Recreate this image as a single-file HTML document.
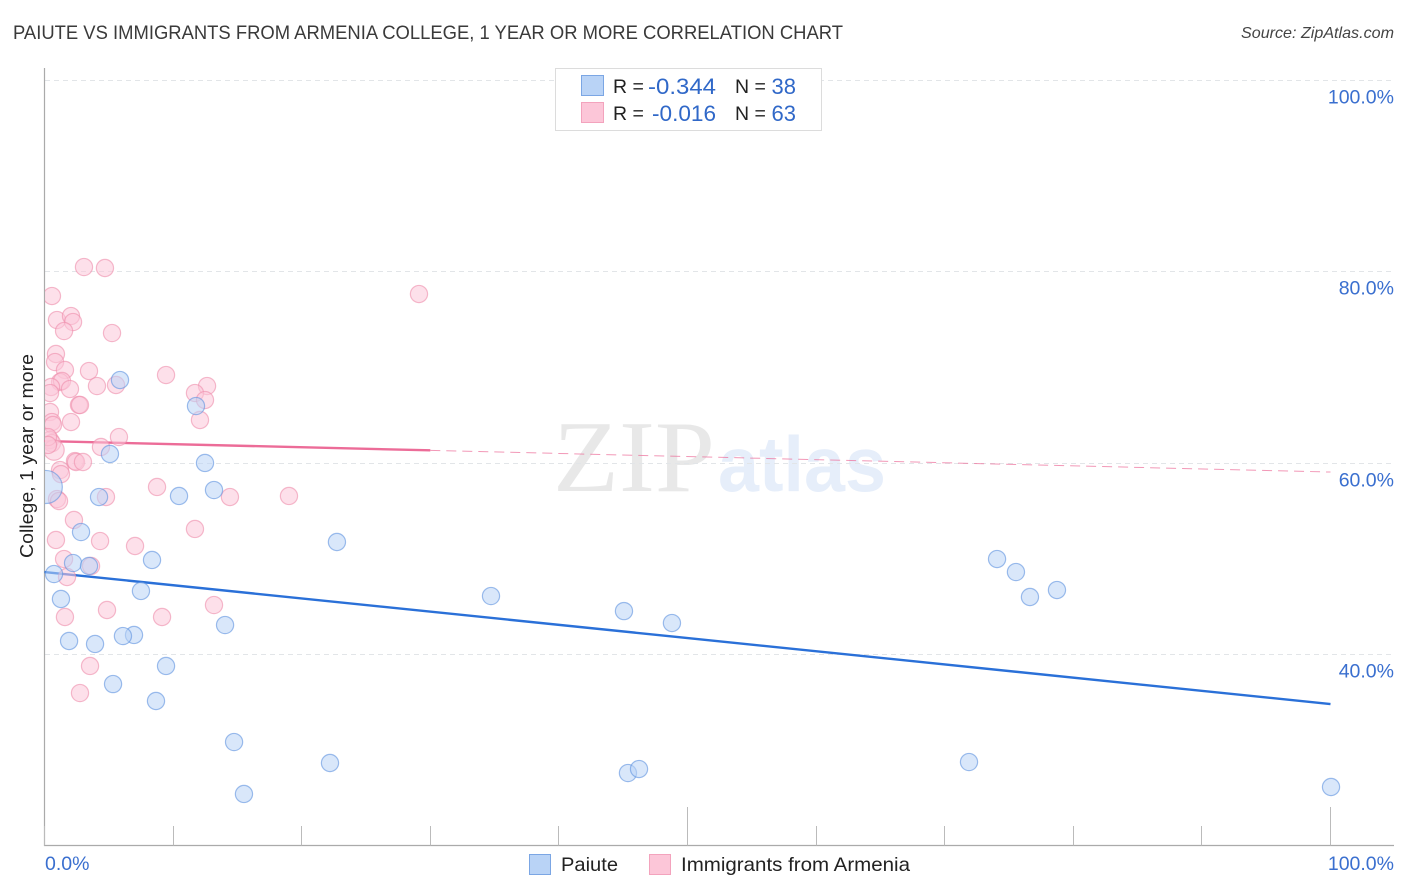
<!DOCTYPE html>
<html lang="en">
<head>
<meta charset="utf-8">
<title>Paiute vs Immigrants from Armenia College, 1 Year or More Correlation Chart</title>
<style>
html,body{margin:0;padding:0;background:#fff;width:1406px;height:892px;overflow:hidden}
svg{display:block;font-family:"Liberation Sans",sans-serif}
</style>
</head>
<body>
<svg id="chart" xmlns="http://www.w3.org/2000/svg" width="1406" height="892" viewBox="0 0 1406 892">
  <defs>
    <clipPath id="plot-clip"><rect x="45" y="68" width="1349" height="777"/></clipPath>
  </defs>
  <text x="13" y="39" font-size="19.5" fill="#3a3a3a" textLength="830" lengthAdjust="spacingAndGlyphs">PAIUTE VS IMMIGRANTS FROM ARMENIA COLLEGE, 1 YEAR OR MORE CORRELATION CHART</text>
  <text x="1394" y="38" font-size="16" font-style="italic" fill="#444" text-anchor="end" textLength="153" lengthAdjust="spacingAndGlyphs">Source: ZipAtlas.com</text>

  <g>
    <text x="553" y="491" font-family="'Liberation Serif',serif" font-size="102" fill="#e8e8e8" textLength="162" lengthAdjust="spacingAndGlyphs">ZIP</text>
    <text x="718" y="491" font-size="78" font-weight="bold" fill="#e6eefa" textLength="168" lengthAdjust="spacingAndGlyphs">atlas</text>
  </g>

  <g id="grid"></g>
  <g id="axes"></g>
  <g id="trends"></g>
  <g id="points" clip-path="url(#plot-clip)"></g>
  <g id="labels"></g>

  <text transform="translate(33,558) rotate(-90)" font-size="18.5" fill="#222" textLength="204" lengthAdjust="spacingAndGlyphs">College, 1 year or more</text>

  <g>
    <rect x="555.5" y="68.5" width="266" height="62" fill="#fff" stroke="#dcdcdc" stroke-width="1"/>
    <rect x="581.5" y="75.5" width="22" height="20" fill="#b9d3f6" stroke="#7ba6e4"/>
    <rect x="581.5" y="102.5" width="22" height="20" fill="#fcc6d8" stroke="#f3a3bd"/>
    <text x="613" y="93" font-size="19.5" fill="#222">R =</text>
    <text x="648" y="94" font-size="22" fill="#3068c8" textLength="68" lengthAdjust="spacingAndGlyphs">-0.344</text>
    <text x="735" y="93" font-size="19.5" fill="#222">N =</text>
    <text x="796" y="94" font-size="22" fill="#3068c8" text-anchor="end">38</text>
    <text x="613" y="120" font-size="19.5" fill="#222">R =</text>
    <text x="652" y="121" font-size="22" fill="#3068c8" textLength="64" lengthAdjust="spacingAndGlyphs">-0.016</text>
    <text x="735" y="120" font-size="19.5" fill="#222">N =</text>
    <text x="796" y="121" font-size="22" fill="#3068c8" text-anchor="end">63</text>
  </g>

  <g>
    <rect x="529.5" y="854.5" width="21" height="20" fill="#b9d3f6" stroke="#7ba6e4"/>
    <text x="561" y="871" font-size="19.5" fill="#222" textLength="57" lengthAdjust="spacingAndGlyphs">Paiute</text>
    <rect x="649.5" y="854.5" width="21" height="20" fill="#fcc6d8" stroke="#f3a3bd"/>
    <text x="681" y="871" font-size="19.5" fill="#222" textLength="229" lengthAdjust="spacingAndGlyphs">Immigrants from Armenia</text>
  </g>
</svg>
<script>
// Chart data (percent units)
const paiuteX = [5.87,11.78,5.09,12.48,4.24,10.46,13.18,22.74,2.84,8.36,2.22,3.46,0.74,7.50,1.28,34.72,45.06,48.79,14.04,6.96,6.10,1.91,3.93,9.45,5.33,8.67,14.74,22.20,15.51,45.37,46.23,71.89,100.04,74.07,75.54,76.63,78.73,0.1];
const paiuteY = [68.64,65.92,60.91,59.97,56.41,56.52,57.14,51.71,52.75,49.83,49.51,49.20,48.36,46.59,45.75,46.06,44.49,43.24,43.03,41.99,41.88,41.36,41.05,38.75,36.86,35.09,30.80,28.61,25.37,27.56,27.98,28.71,26.10,49.93,48.57,45.96,46.69,57.46];
const paiuteWeight = [1,1,1,1,1,1,1,1,1,1,1,1,1,1,1,1,1,1,1,1,1,1,1,1,1,1,1,1,1,1,1,1,1,1,1,1,1,3.7];
const armeniaX = [3.07,4.70,0.58,0.97,2.06,2.22,1.52,5.25,0.89,0.82,1.59,3.46,9.45,1.21,1.36,0.51,0.43,1.98,4.08,5.56,12.64,11.70,12.48,12.09,2.68,2.76,0.43,0.58,0.66,2.06,5.79,4.39,0.43,0.58,0.74,2.37,2.45,2.99,1.21,1.28,0.97,1.13,8.75,4.78,14.42,19.01,2.29,11.70,0.89,4.32,7.04,1.52,3.62,1.75,4.86,1.59,9.14,13.18,3.54,2.76,29.12,0.27,0.27];
const armeniaY = [80.45,80.35,77.42,74.91,75.33,74.70,73.76,73.55,71.36,70.52,69.69,69.58,69.16,68.43,68.54,67.91,67.28,67.70,68.01,68.12,68.01,67.28,66.55,64.46,66.03,66.03,65.30,64.25,63.94,64.25,62.68,61.64,62.37,62.05,61.32,60.17,60.07,60.07,59.23,58.81,56.20,55.99,57.46,56.41,56.41,56.52,54.01,53.07,51.92,51.81,51.29,49.93,49.20,48.05,44.60,43.87,43.87,45.12,38.75,35.92,77.63,62.68,61.85];
const armeniaWeight = [1,1,1,1,1,1,1,1,1,1,1,1,1,1,1,1,1,1,1,1,1,1,1,1,1,1,1,1,1,1,1,1,1,1,1.4,1,1,1,1,1,1,1,1,1,1,1,1,1,1,1,1,1,1,1,1,1,1,1,1,1,1,1,1];
const paiuteTrend = [48.57, 34.77];
const armeniaTrend = [62.26, 59.02];
const armeniaSolidEnd = 30;
const yTicks = [100, 80, 60, 40];
const yTickLabels = ["100.0%", "80.0%", "60.0%", "40.0%"];
const xTicks = [0, 10, 20, 30, 40, 50, 60, 70, 80, 90, 100];
const xMajorTicks = [50, 100];
const xEndLabels = ["0.0%", "100.0%"];

const NS = "http://www.w3.org/2000/svg";
function xScale(v) { return 44.5 + v * 12.86; }
function yScale(v) { return 80 + (100 - v) * 9.567; }
const baseline = 845.5;
function make(tag, attrs, parent, text) {
  const el = document.createElementNS(NS, tag);
  for (const k in attrs) el.setAttribute(k, attrs[k]);
  if (text !== undefined) el.textContent = text;
  parent.appendChild(el);
  return el;
}

const gridG = document.getElementById("grid");
const axesG = document.getElementById("axes");
const trendG = document.getElementById("trends");
const pointG = document.getElementById("points");
const labelG = document.getElementById("labels");

yTicks.forEach(function (t, i) {
  const y = Math.round(yScale(t)) + 0.5;
  const line = make("line", {x1: 45, x2: 1394, y1: y, y2: y, stroke: "#e2e5e8", "stroke-width": 1, "stroke-dasharray": "5 4"}, gridG);
  
  
  const label = make("text", {x: 1394, y: y + 23, "font-size": 19.5, fill: "#3a6fcf", "text-anchor": "end"}, labelG, yTickLabels[i]);
  
  
});

const yAxis = make("line", {x1: 44.5, x2: 44.5, y1: 68, y2: 846, stroke: "#aaa", "stroke-width": 1.2}, axesG);


const xAxis = make("line", {x1: 44, x2: 1394, y1: baseline, y2: baseline, stroke: "#aaa", "stroke-width": 1.2}, axesG);



xTicks.forEach(function (t) {
  const x = Math.round(xScale(t) - 0.5) + 0.5;
  const top = xMajorTicks.indexOf(t) >= 0 ? 807 : 826;
  const tick = make("line", {x1: x, x2: x, y1: top, y2: baseline, stroke: "#bbb", "stroke-width": 1}, axesG);
  
  
});

const xLabelLeft = make("text", {x: 45, y: 870, "font-size": 19.5, fill: "#3a6fcf"}, labelG, xEndLabels[0]);


const xLabelRight = make("text", {x: 1394, y: 870, "font-size": 19.5, fill: "#3a6fcf", "text-anchor": "end"}, labelG, xEndLabels[1]);



function drawPoints(xs, ys, weights, fill, stroke, name) {
  xs.forEach(function (xv, i) {
    const c = make("circle", {
      cx: xScale(xv), cy: yScale(ys[i]), r: 8.6 * Math.sqrt(weights[i]),
      fill: fill, "fill-opacity": 0.55, stroke: stroke, "stroke-opacity": 0.6, "stroke-width": 1.2
    }, pointG);
    
    
  });
}
drawPoints(armeniaX, armeniaY, armeniaWeight, "#fcc6d8", "#ee8dab", "armenia-point");
drawPoints(paiuteX, paiuteY, paiuteWeight, "#b9d3f6", "#5f93e0", "paiute-point");

function trendAt(trend, x) { return trend[0] + (trend[1] - trend[0]) * x / 100; }

const paiuteLine = make("line", {x1: xScale(0), y1: yScale(paiuteTrend[0]), x2: xScale(100), y2: yScale(paiuteTrend[1]), stroke: "#2a70d8", "stroke-width": 2.4}, trendG);


const armeniaSolid = make("line", {x1: xScale(0), y1: yScale(armeniaTrend[0]), x2: xScale(armeniaSolidEnd), y2: yScale(trendAt(armeniaTrend, armeniaSolidEnd)), stroke: "#ec6c98", "stroke-width": 2.4}, trendG);


const armeniaDash = make("line", {x1: xScale(armeniaSolidEnd), y1: yScale(trendAt(armeniaTrend, armeniaSolidEnd)), x2: xScale(100), y2: yScale(armeniaTrend[1]), stroke: "#ec6c98", "stroke-opacity": 0.7, "stroke-width": 1, "stroke-dasharray": "10 6"}, trendG);


</script>
</body>
</html>
